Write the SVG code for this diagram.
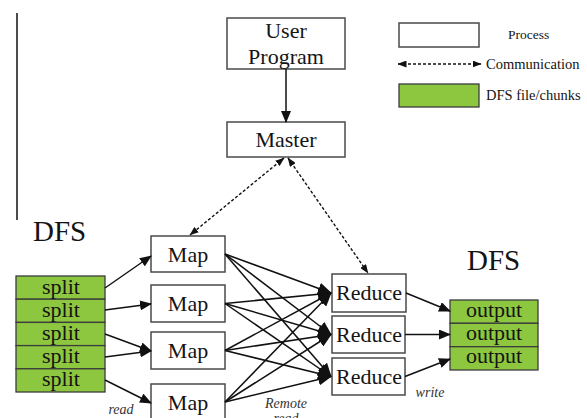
<svg xmlns="http://www.w3.org/2000/svg" width="587" height="418" viewBox="0 0 587 418">
  <style>
    .proc { fill: #ffffff; stroke: #4a4a4a; stroke-width: 1.5; }
    .chunk { fill: #8dc63f; stroke: #3c3c3c; stroke-width: 1.3; }
    .lbl { font-family: "Liberation Serif", "Times New Roman", serif; font-size: 22px; fill: #141414; text-anchor: middle; }
    .big { font-family: "Liberation Serif", "Times New Roman", serif; font-size: 29px; fill: #141414; }
    .legend { font-family: "Liberation Serif", "Times New Roman", serif; font-size: 14.5px; fill: #141414; }
    .note { font-family: "Liberation Serif", "Times New Roman", serif; font-size: 14px; font-style: italic; fill: #333333; text-anchor: middle; }
    .flow { stroke: #111111; stroke-width: 1.5; fill: none; }
    .dash { stroke: #111111; stroke-width: 1.4; fill: none; stroke-dasharray: 3 2; }
  </style>
  <defs>
    <marker id="head" viewBox="0 0 12 10" refX="11" refY="5" markerWidth="12" markerHeight="10" markerUnits="userSpaceOnUse" orient="auto">
      <path d="M0,0 L12,5 L0,10 z" fill="#111111"/>
    </marker>
    <marker id="headBig" viewBox="0 0 14 12" refX="13" refY="6" markerWidth="14" markerHeight="12" markerUnits="userSpaceOnUse" orient="auto">
      <path d="M0,0 L14,6 L0,12 z" fill="#111111"/>
    </marker>
    <marker id="headSmall" viewBox="0 0 9 7" refX="8.5" refY="3.5" markerWidth="9" markerHeight="7" markerUnits="userSpaceOnUse" orient="auto-start-reverse">
      <path d="M0,0 L9,3.5 L0,7 z" fill="#111111"/>
    </marker>
  </defs>

  <rect width="587" height="418" fill="#ffffff"/>

  <!-- left margin rule -->
  <line x1="17" y1="13" x2="17" y2="220" stroke="#111111" stroke-width="1.5"/>

  <!-- legend -->
  <g id="legend">
    <rect class="proc" x="399" y="23" width="80" height="24"/>
    <text class="legend" x="508" y="39" style="font-size:13.5px">Process</text>
    <line class="dash" x1="398" y1="64" x2="481" y2="64" marker-start="url(#headSmall)" marker-end="url(#headSmall)"/>
    <text class="legend" x="486" y="69">Communication</text>
    <rect class="chunk" x="399" y="84" width="80" height="23"/>
    <text class="legend" x="486" y="100">DFS file/chunks</text>
  </g>

  <!-- processes -->
  <g id="user-program">
    <rect class="proc" x="227" y="18" width="118" height="51"/>
    <text class="lbl" x="286" y="38">User</text>
    <text class="lbl" x="286" y="64">Program</text>
  </g>
  <g id="master">
    <rect class="proc" x="227" y="122" width="118" height="35"/>
    <text class="lbl" x="286" y="147">Master</text>
  </g>

  <g id="map-1">
    <rect class="proc" x="151" y="236" width="74" height="36"/>
    <text class="lbl" x="188" y="262">Map</text>
  </g>
  <g id="map-2">
    <rect class="proc" x="151" y="285" width="74" height="37"/>
    <text class="lbl" x="188" y="311">Map</text>
  </g>
  <g id="map-3">
    <rect class="proc" x="151" y="332" width="74" height="37"/>
    <text class="lbl" x="188" y="358">Map</text>
  </g>
  <g id="map-4">
    <rect class="proc" x="151" y="384" width="74" height="37"/>
    <text class="lbl" x="188" y="410">Map</text>
  </g>

  <g id="reduce-1">
    <rect class="proc" x="332" y="274" width="74" height="38"/>
    <text class="lbl" x="369" y="300">Reduce</text>
  </g>
  <g id="reduce-2">
    <rect class="proc" x="332" y="316" width="73" height="37"/>
    <text class="lbl" x="369" y="342">Reduce</text>
  </g>
  <g id="reduce-3">
    <rect class="proc" x="332" y="358" width="73" height="37"/>
    <text class="lbl" x="369" y="384">Reduce</text>
  </g>

  <!-- input file -->
  <g id="dfs-input">
    <text class="big" x="33" y="241">DFS</text>
    <rect class="chunk" x="16" y="276" width="89" height="23.2"/>
    <rect class="chunk" x="16" y="299.2" width="89" height="23.2"/>
    <rect class="chunk" x="16" y="322.4" width="89" height="23.2"/>
    <rect class="chunk" x="16" y="345.6" width="89" height="23.2"/>
    <rect class="chunk" x="16" y="368.8" width="89" height="23.2"/>
    <text class="lbl" x="61" y="294">split</text>
    <text class="lbl" x="61" y="317">split</text>
    <text class="lbl" x="61" y="340">split</text>
    <text class="lbl" x="61" y="363">split</text>
    <text class="lbl" x="61" y="386">split</text>
  </g>

  <!-- output file -->
  <g id="dfs-output">
    <text class="big" x="467" y="270">DFS</text>
    <rect class="chunk" x="450" y="300" width="88" height="23.3"/>
    <rect class="chunk" x="450" y="323.3" width="88" height="23.4"/>
    <rect class="chunk" x="450" y="346.7" width="88" height="23.3"/>
    <text class="lbl" x="494" y="317">output</text>
    <text class="lbl" x="494" y="340">output</text>
    <text class="lbl" x="494" y="363">output</text>
  </g>

  <!-- connectors -->
  <g id="connectors">
    <line class="flow" x1="286" y1="69" x2="286" y2="122" marker-end="url(#head)"/>

    <line class="dash" x1="284" y1="158" x2="190" y2="235" marker-start="url(#headSmall)" marker-end="url(#headSmall)"/>
    <line class="dash" x1="288" y1="158" x2="368" y2="273" marker-start="url(#headSmall)" marker-end="url(#headSmall)"/>

    <line class="flow" x1="105" y1="288" x2="151" y2="256" marker-end="url(#head)"/>
    <line class="flow" x1="105" y1="310" x2="151" y2="304" marker-end="url(#head)"/>
    <line class="flow" x1="105" y1="334" x2="151" y2="351" marker-end="url(#head)"/>
    <line class="flow" x1="105" y1="357" x2="151" y2="351" marker-end="url(#head)"/>
    <line class="flow" x1="105" y1="380" x2="151" y2="403" marker-end="url(#head)"/>

    <line class="flow" x1="225" y1="254" x2="331" y2="293" marker-end="url(#headBig)"/>
    <line class="flow" x1="225" y1="254" x2="331" y2="334.5" marker-end="url(#headBig)"/>
    <line class="flow" x1="225" y1="254" x2="331" y2="376.5" marker-end="url(#headBig)"/>
    <line class="flow" x1="225" y1="303.5" x2="331" y2="293" marker-end="url(#headBig)"/>
    <line class="flow" x1="225" y1="303.5" x2="331" y2="334.5" marker-end="url(#headBig)"/>
    <line class="flow" x1="225" y1="303.5" x2="331" y2="376.5" marker-end="url(#headBig)"/>
    <line class="flow" x1="225" y1="350.5" x2="331" y2="293" marker-end="url(#headBig)"/>
    <line class="flow" x1="225" y1="350.5" x2="331" y2="334.5" marker-end="url(#headBig)"/>
    <line class="flow" x1="225" y1="350.5" x2="331" y2="376.5" marker-end="url(#headBig)"/>
    <line class="flow" x1="225" y1="402" x2="331" y2="293" marker-end="url(#headBig)"/>
    <line class="flow" x1="225" y1="402" x2="331" y2="334.5" marker-end="url(#headBig)"/>
    <line class="flow" x1="225" y1="402" x2="331" y2="376.5" marker-end="url(#headBig)"/>

    <line class="flow" x1="406" y1="293" x2="450" y2="311" marker-end="url(#head)"/>
    <line class="flow" x1="405" y1="334.5" x2="450" y2="334.5" marker-end="url(#head)"/>
    <line class="flow" x1="405" y1="376.5" x2="450" y2="359" marker-end="url(#head)"/>
  </g>

  <!-- annotations -->
  <text class="note" x="121" y="414">read</text>
  <text class="note" x="286" y="408">Remote</text>
  <text class="note" x="286" y="423">read</text>
  <text class="note" x="430" y="397">write</text>
</svg>
